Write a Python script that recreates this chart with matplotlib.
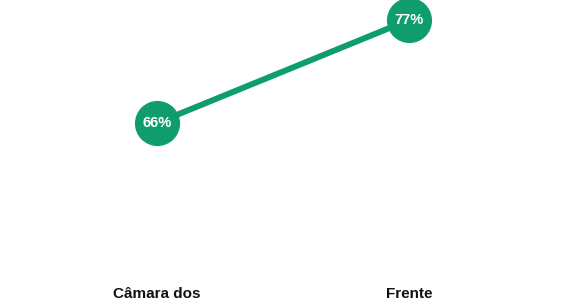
import matplotlib
matplotlib.use('Agg')
import matplotlib.pyplot as plt

categories = ['Câmara dos', 'Frente']
values = [66, 77]
labels = ['66%', '77%']

green = '#0f9d6f'

fig = plt.figure(figsize=(5.66, 3.0), dpi=100)
ax = fig.add_axes([0, 0, 1, 1])
ax.set_xlim(-0.623, 1.623)
ax.set_ylim(47.09, 79.14)
ax.axis('off')

x = list(range(len(categories)))
ax.plot(x, values, color=green, linewidth=4.3, solid_capstyle='butt', zorder=1)
ax.plot(x, values, 'o', color=green, markersize=32.5, markeredgewidth=0, zorder=2)

for xi, v, lab in zip(x, values, labels):
    ax.text(xi, v, lab, color='white', fontsize=10.5, fontweight='bold',
            family='Liberation Sans', ha='center', va='center', zorder=3)

# category names sit right at the bottom edge
for xi, cat in zip(x, categories):
    ax.text(xi, 0.006, cat, transform=ax.get_xaxis_transform(), ha='center', va='baseline',
            fontsize=11, fontweight='bold', family='Liberation Sans', color='#111111')

fig.savefig('out.png', dpi=100, facecolor='white')
